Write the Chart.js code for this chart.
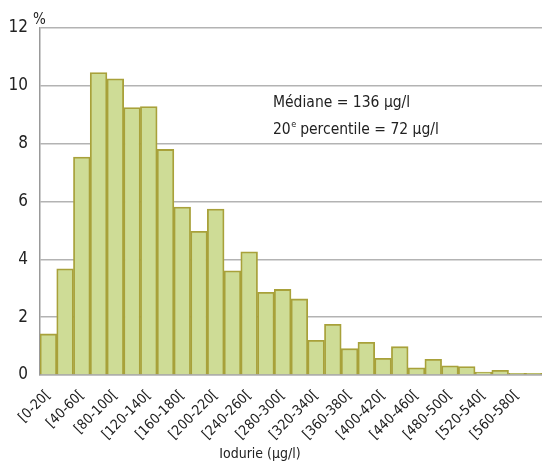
<!DOCTYPE html>
<html>
<head>
<meta charset="utf-8">
<script src="https://cdn.jsdelivr.net/npm/chart.js@4/dist/chart.umd.min.js"></script>
<style>
  html, body { margin: 0; padding: 0; background: #fff; }
  #wrap { width: 542px; height: 464px; position: relative; }
</style>
</head>
<body>
<div id="wrap"><canvas id="myChart"></canvas></div>
<script>
const FONT = '"Liberation Sans Narrow", "DejaVu Sans Condensed", "Liberation Sans", sans-serif';

// classes of urinary iodine, 20 µg/l wide
const classes = [
    '[0-20[', '[20-40[', '[40-60[', '[60-80[', '[80-100[', '[100-120[',
    '[120-140[', '[140-160[', '[160-180[', '[180-200[', '[200-220[', '[220-240[',
    '[240-260[', '[260-280[', '[280-300[', '[300-320[', '[320-340[', '[340-360[',
    '[360-380[', '[380-400[', '[400-420[', '[420-440[', '[440-460[', '[460-480[',
    '[480-500[', '[500-520[', '[520-540[', '[540-560[', '[560-580[', '[580-600['
];
// share of the sample, in %
const percents = [
    1.42, 3.67, 7.54, 10.46, 10.24, 9.25,
    9.28, 7.80, 5.81, 4.97, 5.74, 3.60,
    4.26, 2.86, 2.96, 2.63, 1.20, 1.75,
    0.91, 1.13, 0.58, 0.98, 0.25, 0.54,
    0.32, 0.29, 0.10, 0.16, 0.06, 0.06
];
const yTicks = [0, 2, 4, 6, 8, 10, 12];
const notes = ['Médiane = 136 µg/l', ['20', 'e', ' percentile = 72 µg/l']];
const xTitle = 'Iodurie (µg/l)';

// extra texts: unit, notes, axis title
const extras = {
    id: 'extras',
    afterDraw(chart) {
        const c = chart.ctx;
        c.save();
        c.fillStyle = '#222';
        c.textBaseline = 'alphabetic';
        c.textAlign = 'left';
        c.font = '15px ' + FONT;
        c.fillText('%', 33, 24);

        c.font = '15.5px ' + FONT;
        c.fillText(notes[0], 273, 107);
        let x = 273;
        c.fillText(notes[1][0], x, 134);
        x += c.measureText(notes[1][0]).width;
        c.font = '9px ' + FONT;
        c.fillText(notes[1][1], x + 0.5, 127);
        x += c.measureText(notes[1][1]).width;
        c.font = '15.5px ' + FONT;
        c.fillText(notes[1][2], x, 134);

        c.font = '14px ' + FONT;
        c.textAlign = 'center';
        c.fillText(xTitle, 260, 458);
        c.restore();
    }
};

const ctx = document.getElementById('myChart').getContext('2d');
const chart = new Chart(ctx, {
    type: 'bar',
    data: {
        labels: classes,
        datasets: [{
            data: percents,
            backgroundColor: '#cedc96',
            borderColor: '#a8a13a',
            borderWidth: 1.8,
            categoryPercentage: 1,
            barPercentage: 1
        }]
    },
    options: {
        responsive: true,
        maintainAspectRatio: false,
        animation: false,
        devicePixelRatio: 1,
        layout: { padding: { top: 28, right: 0, left: 0, bottom: 0 } },
        plugins: { legend: { display: false }, tooltip: { enabled: false } },
        scales: {
            x: {
                grid: { display: false },
                border: { color: '#aaa', width: 1.5 },
                afterFit(scale) {
                    scale.height = 89;
                    scale.paddingLeft = 0;
                    scale.paddingRight = 0;
                },
                ticks: {
                    autoSkip: false,
                    minRotation: 45,
                    maxRotation: 45,
                    color: '#222',
                    padding: 4,
                    font: { family: FONT, size: 14 },
                    callback(v, i) { return i % 2 === 0 ? classes[i] : ''; }
                }
            },
            y: {
                min: 0,
                max: 12,
                afterBuildTicks(scale) { scale.ticks = yTicks.map(v => ({ value: v })); },
                afterFit(scale) { scale.width = 40; },
                grid: { color: '#b3b3b3', lineWidth: 1.5, drawTicks: false },
                border: { color: '#999', width: 1.5 },
                ticks: {
                    color: '#222',
                    padding: 12,
                    font: { family: FONT, size: 17 }
                }
            }
        }
    },
    plugins: [extras]
});
</script>
</body>
</html>
